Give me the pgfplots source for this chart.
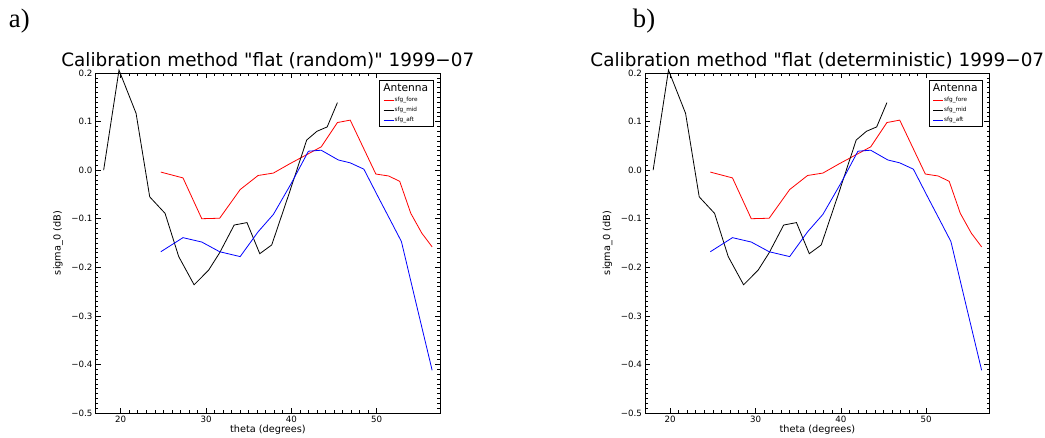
\documentclass[border=0pt]{standalone}
\usepackage{fontspec}
\setmainfont{DejaVu Sans}[Ligatures=TeXOff]
\newfontfamily\seriffont{Liberation Serif}
\usepackage{pgfplots}
\pgfplotsset{compat=1.18}
\usepackage{pgfplotstable}

\pgfplotstableread{
x y
24.7 -0.004
27.3 -0.016
29.5 -0.100
31.6 -0.099
34.0 -0.040
36.1 -0.011
37.9 -0.006
39.8 0.013
41.6 0.030
43.5 0.048
45.4 0.098
46.9 0.103
49.9 -0.008
51.4 -0.012
52.7 -0.023
54.0 -0.089
55.3 -0.130
56.5 -0.158
}\fore

\pgfplotstableread{
x y
18.0 0.000
19.8 0.206
21.8 0.117
23.4 -0.055
25.2 -0.089
26.8 -0.178
28.6 -0.236
30.3 -0.206
31.6 -0.170
33.3 -0.113
34.8 -0.108
36.3 -0.172
37.7 -0.154
39.7 -0.050
41.8 0.062
43.0 0.080
44.2 0.089
45.4 0.139
}\mid

\pgfplotstableread{
x y
24.7 -0.168
27.3 -0.139
29.5 -0.148
31.6 -0.168
34.0 -0.178
36.1 -0.127
37.9 -0.091
40.0 -0.027
42.0 0.039
43.5 0.041
45.5 0.021
46.9 0.015
48.5 0.002
50.2 -0.056
51.6 -0.103
52.9 -0.147
54.7 -0.280
56.5 -0.412
}\aft

\pgfplotsset{
  panel/.style={
    anchor=south west,
    scale only axis,
    width=258.2pt, height=255pt,
    xmin=17.07, xmax=57.42,
    ymin=-0.5, ymax=0.2,
    clip=false,
    xtick={20,30,40,50},
    xticklabels={20,30,40,50},
    ytick={-0.5,-0.4,-0.3,-0.2,-0.1,0,0.1,0.2},
    yticklabels={−0.5,−0.4,−0.3,−0.2,−0.1,0.0,0.1,0.2},
    minor x tick num=9,
    minor y tick num=9,
    tick align=inside,
    major tick length=3.75pt,
    minor tick length=2pt,
    tick style={line width=0.5pt, black},
    axis line style={line width=0.6pt},
    ticklabel style={font=\fontsize{6.5}{7}\selectfont},
    xticklabel style={inner sep=0pt, yshift=-2.3pt},
    yticklabel style={inner sep=0pt, xshift=-2.3pt},
    xlabel={theta (degrees)},
    ylabel={sigma\_0 (dB)},
    label style={font=\fontsize{7.3}{8}\selectfont},
    xlabel style={at={(axis description cs:0.5,-0.05)}, anchor=center},
    ylabel style={at={(axis description cs:-0.1095,0.5)}, anchor=center},
    title style={at={(axis description cs:0.5,1)}, anchor=base, yshift=-0.9pt, font=\fontsize{13.8}{15}\selectfont},
    legend style={at={(axis description cs:0.9805,0.979)}, anchor=north east,
      draw=black, line width=0.5pt, fill=white,
      font=\fontsize{4.3}{5}\selectfont,
      inner xsep=3pt, inner ysep=2pt, row sep=1.6pt,
      nodes={inner sep=0.5pt},
      cells={anchor=west}},
    legend image code/.code={\draw[#1, line width=0.5pt] (0pt,0pt) -- (7.5pt,0pt);},
  }
}

\begin{document}
\begin{tikzpicture}
\path[use as bounding box] (0pt,0pt) rectangle (783.75pt,328.5pt);
\node[font=\seriffont\fontsize{20}{20}\selectfont, anchor=base west, inner sep=0pt] at (6.5pt,307.5pt) {a)};
\node[font=\seriffont\fontsize{20}{20}\selectfont, anchor=base west, inner sep=0pt] at (474.5pt,307.5pt) {b)};

\begin{axis}[panel, at={(71.78pt,18.75pt)}, title={Calibration method "flat (random)" 1999−07}]
\addlegendimage{empty legend}
\addlegendentry{\hspace*{-8.5pt}\fontsize{8}{8}\selectfont Antenna}
\addplot[red, line width=0.6pt] table[x=x,y=y] {\fore};
\addlegendentry{sfg\_fore}
\addplot[black, line width=0.6pt] table[x=x,y=y] {\mid};
\addlegendentry{sfg\_mid}
\addplot[blue, line width=0.6pt] table[x=x,y=y] {\aft};
\addlegendentry{sfg\_aft}
\end{axis}

\begin{axis}[panel, at={(483.9pt,18.75pt)}, title={Calibration method "flat (deterministic) 1999−07}]
\addlegendimage{empty legend}
\addlegendentry{\hspace*{-8.5pt}\fontsize{8}{8}\selectfont Antenna}
\addplot[red, line width=0.6pt] table[x=x,y=y] {\fore};
\addlegendentry{sfg\_fore}
\addplot[black, line width=0.6pt] table[x=x,y=y] {\mid};
\addlegendentry{sfg\_mid}
\addplot[blue, line width=0.6pt] table[x=x,y=y] {\aft};
\addlegendentry{sfg\_aft}
\end{axis}
\end{tikzpicture}
\end{document}
